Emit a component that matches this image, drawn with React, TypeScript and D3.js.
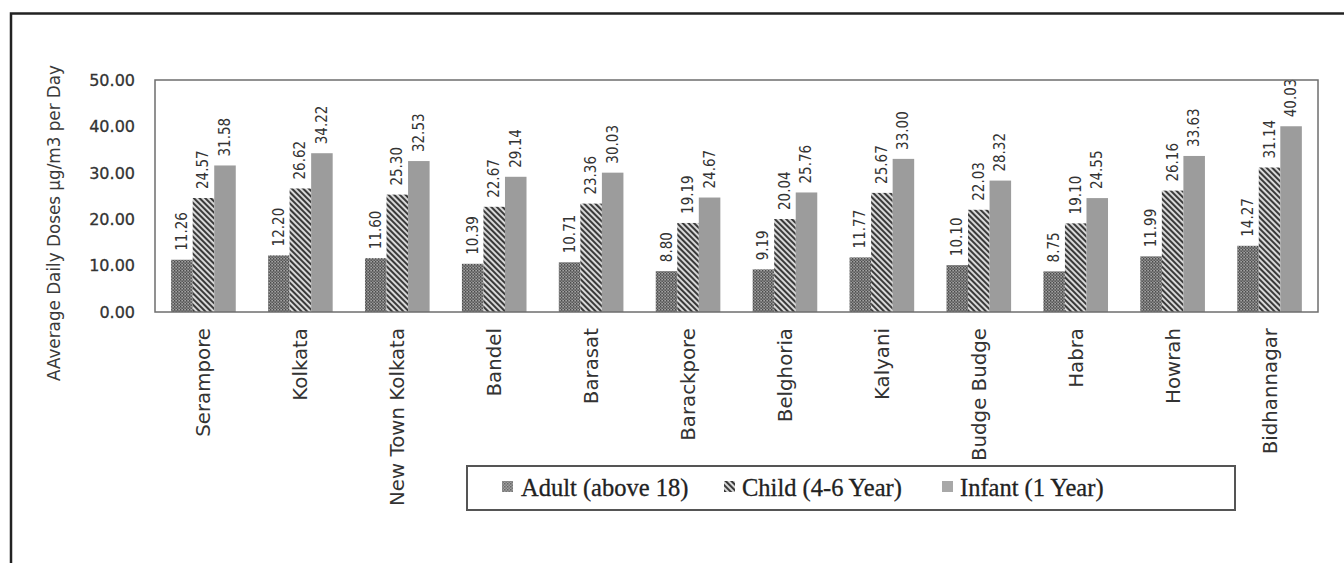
import React from "react";
import * as d3 from "d3";

const categories = [
  "Serampore", "Kolkata", "New Town Kolkata", "Bandel", "Barasat", "Barackpore",
  "Belghoria", "Kalyani", "Budge Budge", "Habra", "Howrah", "Bidhannagar",
];
const adult = [11.26, 12.2, 11.6, 10.39, 10.71, 8.8, 9.19, 11.77, 10.1, 8.75, 11.99, 14.27];
const child = [24.57, 26.62, 25.3, 22.67, 23.36, 19.19, 20.04, 25.67, 22.03, 19.1, 26.16, 31.14];
const infant = [31.58, 34.22, 32.53, 29.14, 30.03, 24.67, 25.76, 33.0, 28.32, 24.55, 33.63, 40.03];
const seriesNames = ["Adult (above 18)", "Child (4-6 Year)", "Infant (1 Year)"];
const yTicks = [0, 10, 20, 30, 40, 50];
const yTitle = "AAverage Daily Doses µg/m3 per Day";

const fills = ["url(#patAdult)", "url(#patChild)", "#9c9c9c"];
const legendFills = ["url(#patAdultL)", "url(#patChild)", "#a8a8a8"];

export default function App() {
  const W = 1344, H = 563;
  const plot = { left: 155, right: 1318, top: 80, bottom: 312 };
  const x0 = d3.scaleBand<string>().domain(categories).range([plot.left, plot.right]).paddingInner(0).paddingOuter(0);
  const bw = x0.bandwidth();
  const groupW = bw * (3 / 4.5);
  const barW = groupW / 3;
  const y = d3.scaleLinear().domain([0, 50]).range([plot.bottom, plot.top]);
  const series = [adult, child, infant];

  const legendItems = [
    { mx: 502, tx: 521 },
    { mx: 724, tx: 742 },
    { mx: 942, tx: 960 },
  ];

  return (
    <svg width={W} height={H} style={{ position: "absolute", left: 0, top: 0, background: "#fff" }}>
      <defs>
        <pattern id="patAdult" width="3" height="3" patternUnits="userSpaceOnUse">
          <rect width="3" height="3" fill="#8a8a8a" />
          <rect x="0" y="0" width="1.5" height="1.5" fill="#4a4a4a" />
          <rect x="1.5" y="1.5" width="1.5" height="1.5" fill="#5a5a5a" />
          <rect x="1.6" y="0.2" width="0.9" height="0.9" fill="#c8c8c8" />
        </pattern>
        <pattern id="patAdultL" width="3" height="3" patternUnits="userSpaceOnUse">
          <rect width="3" height="3" fill="#a0a0a0" />
          <rect x="0" y="0" width="1.5" height="1.5" fill="#666" />
          <rect x="1.5" y="1.5" width="1.5" height="1.5" fill="#777" />
        </pattern>
        <pattern id="patChild" width="4" height="4" patternUnits="userSpaceOnUse" patternTransform="rotate(-45)">
          <rect width="4" height="4" fill="#dcdcdc" />
          <line x1="1" y1="0" x2="1" y2="4" stroke="#3a3a3a" strokeWidth="2.1" />
        </pattern>
      </defs>

      {/* outer frame */}
      <rect x={11} y={13.5} width={1400} height={600} fill="none" stroke="#222" strokeWidth={2.5} />

      {/* y-axis title */}
      <text
        transform={`translate(60,223) rotate(-90)`}
        textAnchor="middle"
        fontFamily="DejaVu Sans"
        fontSize={16.8}
        fill="#3a3a3a"
      >
        {yTitle}
      </text>

      {/* y tick labels */}
      {yTicks.map((t) => (
        <text
          key={t}
          x={135}
          y={y(t)}
          dy="0.36em"
          textAnchor="end"
          fontFamily="DejaVu Sans"
          fontSize={16}
          fill="#333"
          stroke="#333"
          strokeWidth={0.3}
        >
          {t.toFixed(2)}
        </text>
      ))}

      {/* bars */}
      {categories.map((c, i) => {
        const gx = (x0(c) as number) + (bw - groupW) / 2;
        return (
          <g key={c}>
            {series.map((s, k) => {
              const bx = gx + k * barW;
              return (
                <rect key={k} x={bx} y={y(s[i])} width={barW} height={y(0) - y(s[i])} fill={fills[k]} />
              );
            })}
            {series.map((s, k) => {
              const cx = gx + k * barW + barW / 2;
              return (
                <text
                  key={"l" + k}
                  transform={`translate(${cx + 5},${y(s[i]) - 9}) rotate(-90)`}
                  textAnchor="start"
                  fontFamily="DejaVu Sans Condensed"
                  fontSize={15}
                  fill="#333"
                >
                  {s[i].toFixed(2)}
                </text>
              );
            })}
          </g>
        );
      })}

      {/* plot border */}
      <rect
        x={plot.left}
        y={plot.top}
        width={plot.right - plot.left}
        height={plot.bottom - plot.top}
        fill="none"
        stroke="#6e6e6e"
        strokeWidth={1.5}
      />

      {/* category labels */}
      {categories.map((c) => {
        const cx = (x0(c) as number) + bw / 2;
        return (
          <text
            key={c}
            transform={`translate(${cx + 7},328) rotate(-90)`}
            textAnchor="end"
            fontFamily="DejaVu Sans"
            fontSize={19.8}
            fill="#333"
          >
            {c}
          </text>
        );
      })}

      {/* legend */}
      <rect x={467} y={466} width={768} height={44} fill="#fff" stroke="#555" strokeWidth={2} />
      {seriesNames.map((n, k) => (
        <g key={n}>
          <rect x={legendItems[k].mx} y={481} width={11} height={11} fill={legendFills[k]} />
          <text
            x={legendItems[k].tx}
            y={487}
            dy="0.35em"
            fontFamily="Liberation Serif"
            fontSize={24.5}
            fill="#222"
            stroke="#222"
            strokeWidth={0.3}
          >
            {n}
          </text>
        </g>
      ))}
    </svg>
  );
}
